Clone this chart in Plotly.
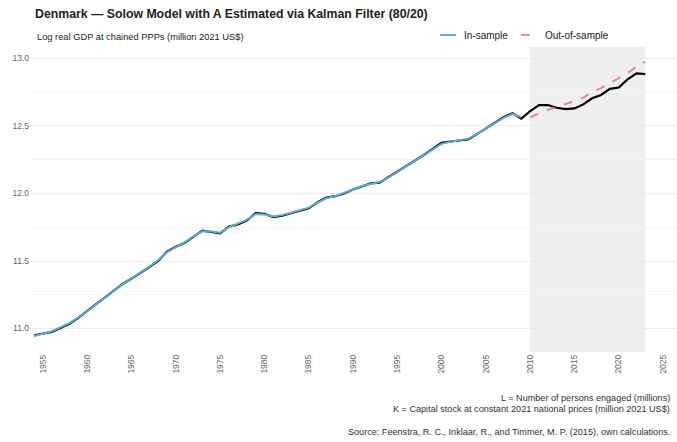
import plotly.graph_objects as go

# Observed log real GDP, Denmark, 1954-2023
years = list(range(1954, 2024))
log_gdp = [
    10.95, 10.96, 10.975, 11.005, 11.035, 11.08, 11.13, 11.18, 11.235, 11.28,
    11.33, 11.37, 11.41, 11.455, 11.50, 11.57, 11.605, 11.635, 11.68, 11.725,
    11.715, 11.705, 11.755, 11.77, 11.80, 11.855, 11.85, 11.825, 11.835, 11.855,
    11.875, 11.89, 11.935, 11.97, 11.98, 12.00, 12.03, 12.055, 12.075, 12.08,
    12.12, 12.165, 12.20, 12.245, 12.285, 12.33, 12.375, 12.385, 12.39, 12.40,
    12.44, 12.48, 12.52, 12.565, 12.595, 12.555, 12.61, 12.655, 12.655, 12.635,
    12.625, 12.63, 12.66, 12.705, 12.73, 12.775, 12.785, 12.845, 12.89, 12.885,
]

# Kalman-filtered fit on the training window (first 80%)
train_years = list(range(1954, 2010))
fit_in = [
    10.945, 10.962, 10.98, 11.01, 11.04, 11.083, 11.128, 11.178, 11.232, 11.282,
    11.327, 11.372, 11.413, 11.458, 11.505, 11.565, 11.603, 11.638, 11.683, 11.72,
    11.718, 11.71, 11.75, 11.775, 11.805, 11.848, 11.845, 11.83, 11.84, 11.857,
    11.877, 11.895, 11.932, 11.965, 11.982, 12.003, 12.028, 12.055, 12.072, 12.085,
    12.118, 12.162, 12.203, 12.243, 12.283, 12.325, 12.368, 12.384, 12.392, 12.405,
    12.442, 12.482, 12.522, 12.56, 12.59, 12.565,
]

# Out-of-sample forecast on the test window (last 20%)
test_years = list(range(2010, 2024))
fit_out = [
    12.565, 12.595, 12.62, 12.64, 12.66, 12.685, 12.71, 12.75, 12.78, 12.82,
    12.855, 12.89, 12.94, 12.975,
]

x_ticks = list(range(1955, 2030, 5))
y_ticks = [11.0, 11.5, 12.0, 12.5, 13.0]
y_minor = [11.25, 11.75, 12.25, 12.75]

BLUE = "#5aaed3"
RED = "rgba(226,110,110,0.75)"
FONT = "Liberation Sans, Arial, sans-serif"

# plot-area geometry in pixels, used to place the header and footer text
W, H = 677, 442
ML, MR, MT, MB = 30, 0, 47, 90
PW, PH = W - ML - MR, H - MT - MB


def px_x(px):
    return (px - ML) / PW


def px_y(py):
    return (H - MB - py) / PH


fig = go.Figure()

# shaded test period
fig.add_vrect(x0=test_years[0], x1=test_years[-1], fillcolor="#efefef",
              line_width=0, layer="below")

fig.add_trace(go.Scatter(x=years, y=log_gdp, mode="lines",
                         line=dict(color="black", width=2.2),
                         showlegend=False, hoverinfo="skip"))
fig.add_trace(go.Scatter(x=train_years, y=fit_in, mode="lines", name="In-sample",
                         line=dict(color=BLUE, width=2), showlegend=False))
fig.add_trace(go.Scatter(x=test_years, y=fit_out, mode="lines", name="Out-of-sample",
                         line=dict(color=RED, width=2, dash="dash"), showlegend=False))

fig.update_layout(
    width=W, height=H,
    margin=dict(l=ML, r=MR, t=MT, b=MB),
    plot_bgcolor="white", paper_bgcolor="white",
    font=dict(family=FONT, color="#222"),
    title=dict(text="<b>Denmark \u2014 Solow Model with A Estimated via Kalman Filter (80/20)</b>",
               font=dict(size=12.3, color="#222"),
               xref="container", yref="container", x=35 / W, y=1 - 9 / H,
               xanchor="left", yanchor="top"),
    xaxis=dict(range=[1953.53, 2026.58], tickvals=x_ticks, tickangle=-90,
               showgrid=False, zeroline=False, showline=False, ticks="",
               tickfont=dict(size=8.5, color="#666")),
    yaxis=dict(range=[10.826, 13.085], tickvals=y_ticks,
               ticktext=[f"{v:.1f}" for v in y_ticks],
               showgrid=True, gridcolor="#ebebeb", gridwidth=1,
               minor=dict(tickvals=y_minor, showgrid=True, gridcolor="#f4f4f4", gridwidth=1),
               zeroline=False, showline=False, ticks="",
               tickfont=dict(size=8.5, color="#666")),
    showlegend=False,
)

fig.add_annotation(text="Log real GDP at chained PPPs (million 2021 US$)",
                   xref="paper", yref="paper", x=px_x(35), y=px_y(37),
                   xanchor="left", yanchor="middle", showarrow=False,
                   font=dict(size=9.3, color="#222"))

# legend keys drawn in the header row
legend_items = [("In-sample", BLUE, "solid", 440), ("Out-of-sample", RED, "dash", 521)]
for label, color, dash, x0 in legend_items:
    fig.add_shape(type="line", xref="paper", yref="paper",
                  x0=px_x(x0), x1=px_x(x0 + 16), y0=px_y(35), y1=px_y(35),
                  line=dict(color=color, width=2, dash=dash))
    fig.add_annotation(text=label, xref="paper", yref="paper",
                       x=px_x(x0 + 22), y=px_y(35), xanchor="left", yanchor="middle",
                       showarrow=False, font=dict(size=10, color="#222"))

captions = [
    ("L = Number of persons engaged (millions)", 398),
    ("K = Capital stock at constant 2021 national prices (million 2021 US$)", 409),
    ("Source: Feenstra, R. C., Inklaar, R., and Timmer, M. P. (2015), own calculations.", 432),
]
for txt, ypix in captions:
    fig.add_annotation(text=txt, xref="paper", yref="paper",
                       x=px_x(672), y=px_y(ypix),
                       xanchor="right", yanchor="middle", showarrow=False,
                       font=dict(size=9.1, color="#333"))

fig.write_html("out.html")
